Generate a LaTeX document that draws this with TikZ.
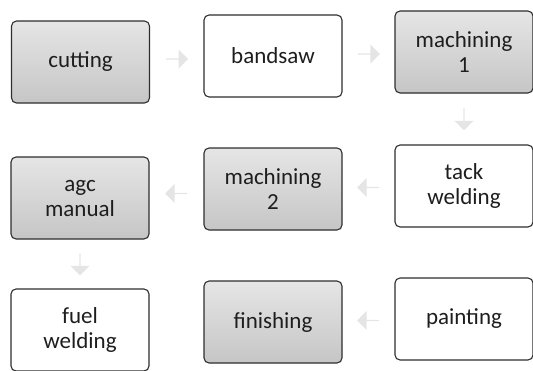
\documentclass[tikz,border=0pt]{standalone}
\usepackage{fontspec}
\setmainfont{Carlito}
\usetikzlibrary{shapes.arrows,calc}
\definecolor{ink}{HTML}{1E1E1E}
\definecolor{edge}{HTML}{2E2E2E}
\tikzset{
  box/.style={draw=edge, line width=1.1pt, rounded corners=5pt,
    minimum width=138pt, minimum height=82pt, inner sep=2pt,
    align=center, text=ink, font=\fontsize{23}{25}\selectfont},
  graybox/.style={box, top color=gray!20, bottom color=gray!45},
  whitebox/.style={box, fill=white},
  flow/.style={single arrow, fill=gray!20, draw=none,
    minimum height=22pt, minimum width=19pt, single arrow head extend=3pt, inner sep=0pt}
}
\begin{document}
\begin{tikzpicture}[x=1pt,y=-1pt]
\useasboundingbox (0,0) rectangle (533,370);
\clip (0,0) rectangle (533,370);
% row 1
\node[graybox]  (cut)   at (80.5,62)  {cutting};
\node[whitebox] (band)  at (273,56)   {bandsaw};
\node[graybox]  (mone)  at (464,52)   {machining\\1};
% row 2
\node[graybox]  (agc)   at (80,198)   {agc\\manual};
\node[graybox]  (mtwo)  at (273,189)  {machining\\2};
\node[whitebox] (tack)  at (464,186)  {tack\\welding};
% row 3
\node[whitebox] (fuel)  at (80,330)   {fuel\\welding};
\node[graybox]  (fin)   at (273,322)  {finishing};
\node[whitebox] (paint) at (464,319)  {painting};
% flow arrows
\node[flow] (a1) at ($(cut.east)!0.5!(band.west)$) {};
\node[flow] (a2) at ($(band.east)!0.5!(mone.west)$) {};
\node[flow, shape border rotate=270] (a3) at ($(mone.south)!0.5!(tack.north)$) {};
\node[flow, shape border rotate=180] (a4) at ($(tack.west)!0.5!(mtwo.east)$) {};
\node[flow, shape border rotate=180] (a5) at ($(mtwo.west)!0.5!(agc.east)$) {};
\node[flow, shape border rotate=270] (a6) at ($(agc.south)!0.5!(fuel.north)$) {};
\node[flow, shape border rotate=180] (a7) at ($(paint.west)!0.5!(fin.east)$) {};
\end{tikzpicture}
\end{document}
